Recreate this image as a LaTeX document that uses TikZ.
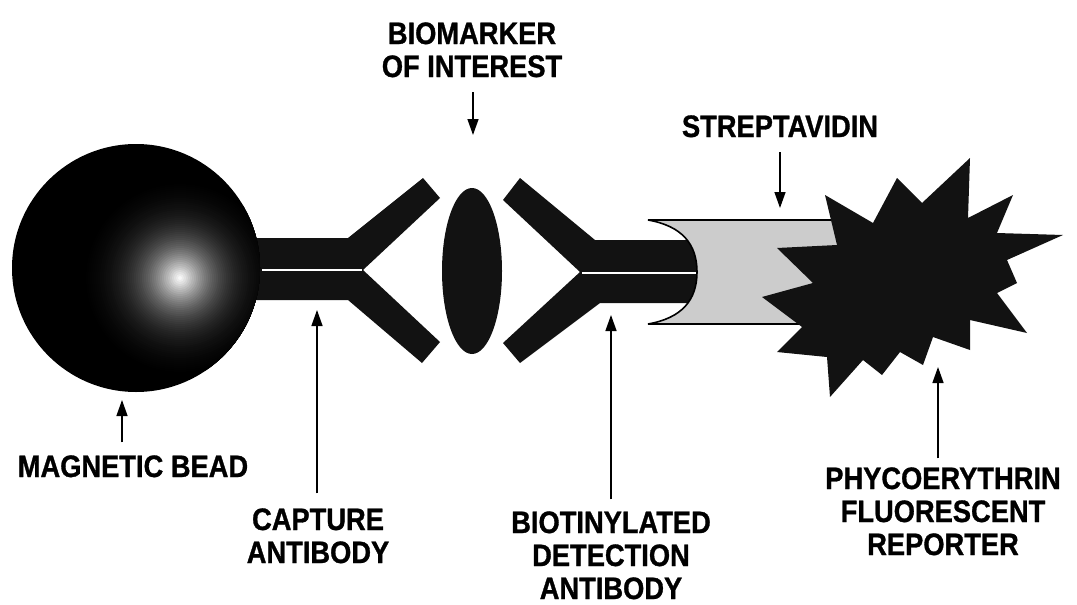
\documentclass[tikz,border=0pt]{standalone}
\usepackage{fontspec}
\newfontfamily\labfont[FakeStretch=0.88,FakeBold=1]{Liberation Sans}
\usetikzlibrary{arrows.meta}
\definecolor{strepgray}{gray}{0.8}
\definecolor{ink}{gray}{0.07}

\begin{document}
\begin{tikzpicture}[x=1pt,y=-1pt,
  lbl/.style={font=\labfont\bfseries\fontsize{31}{33}\selectfont, align=center,
              inner sep=0pt, outer sep=0pt, anchor=base},
  ptr/.style={line width=1.4pt, -{Triangle[length=16pt,width=11pt]}},
  body/.style={fill=ink},
  hinge/.style={white, line width=1.6pt}]

\useasboundingbox[fill=white] (0,0) rectangle (1077,605);

% capture antibody (drawn under the bead)
\fill[body] (250,238) -- (348,238) -- (423,178) -- (440,198) -- (363,270)
  -- (440,342) -- (422,363) -- (348,300) -- (250,300) -- cycle;
\draw[hinge] (262,270) -- (362,270);

% magnetic bead with a soft highlight built from concentric discs
\coordinate (bead) at (136,268);
\fill[black] (bead) circle[radius=124];
\begin{scope}
  \clip (bead) circle[radius=124];
  \foreach \i in {0,...,47} {
    \pgfmathsetmacro\r{96-2*\i}
    \pgfmathsetmacro\b{max(0,103.6*exp(-(\r/35)^1.2)-3.6)}
    \fill[white!\b!black] (180,278) circle[radius=\r];
  }
\end{scope}

% biomarker of interest
\fill[body] (472,271) ellipse[x radius=30, y radius=83];

% biotinylated detection antibody
\fill[body] (595,240) -- (700,240) -- (700,303) -- (600,303) -- (520,363)
  -- (503,343) -- (580,272) -- (503,200) -- (520,178) -- cycle;
\draw[hinge] (582,273) -- (697,273);

% streptavidin
\fill[strepgray] (648,220) -- (850,220) -- (850,324) -- (648,324)
  .. controls (682,318) and (697,300) .. (697,272)
  .. controls (697,244) and (682,226) .. (648,220) -- cycle;
\draw[line width=1.6pt] (850,220) -- (648,220)
  .. controls (682,226) and (697,244) .. (697,272)
  .. controls (697,300) and (682,318) .. (648,324) -- (850,324);

% phycoerythrin reporter
\fill[body] (970,158) -- (968,218) -- (1013,195) -- (997,233) -- (1063,235)
  -- (1007,260) -- (1017,283) -- (997,293) -- (1027,333) -- (970,320)
  -- (970,350) -- (933,337) -- (923,365) -- (900,352) -- (882,375)
  -- (863,360) -- (830,397) -- (827,357) -- (777,352) -- (802,327)
  -- (762,297) -- (813,283) -- (777,248) -- (837,245) -- (825,195)
  -- (873,223) -- (897,178) -- (922,203) -- cycle;

% labels (anchored at the baseline of their last line)
\node[lbl] (lbead) at (133,477) {MAGNETIC BEAD};
\node[lbl] (lcap)  at (318,563) {CAPTURE\\ANTIBODY};
\node[lbl] (ldet)  at (611,599) {BIOTINYLATED\\DETECTION\\ANTIBODY};
\node[lbl] (lpe)   at (943,555) {PHYCOERYTHRIN\\FLUORESCENT\\REPORTER};
\node[lbl] (lbio)  at (472,77)  {BIOMARKER\\OF INTEREST};
\node[lbl] (lstr)  at (780,137) {STREPTAVIDIN};

% arrow tips
\coordinate (tbead) at (122,400);
\coordinate (tcap)  at (317,310);
\coordinate (tdet)  at (611,315);
\coordinate (tpe)   at (938,367);
\coordinate (tbio)  at (473,135);
\coordinate (tstr)  at (780,208);

\draw[ptr, shorten <=13pt] (lbead.north -| tbead) -- (tbead);
\draw[ptr, shorten <=15pt] (lcap.north -| tcap) -- (tcap);
\draw[ptr, shorten <=12pt] (ldet.north -| tdet) -- (tdet);
\draw[ptr, shorten <=9pt]  (lpe.north -| tpe) -- (tpe);
\draw[ptr, shorten <=15pt] (lbio.south -| tbio) -- (tbio);
\draw[ptr, shorten <=15pt] (lstr.south -| tstr) -- (tstr);
\end{tikzpicture}
\end{document}
